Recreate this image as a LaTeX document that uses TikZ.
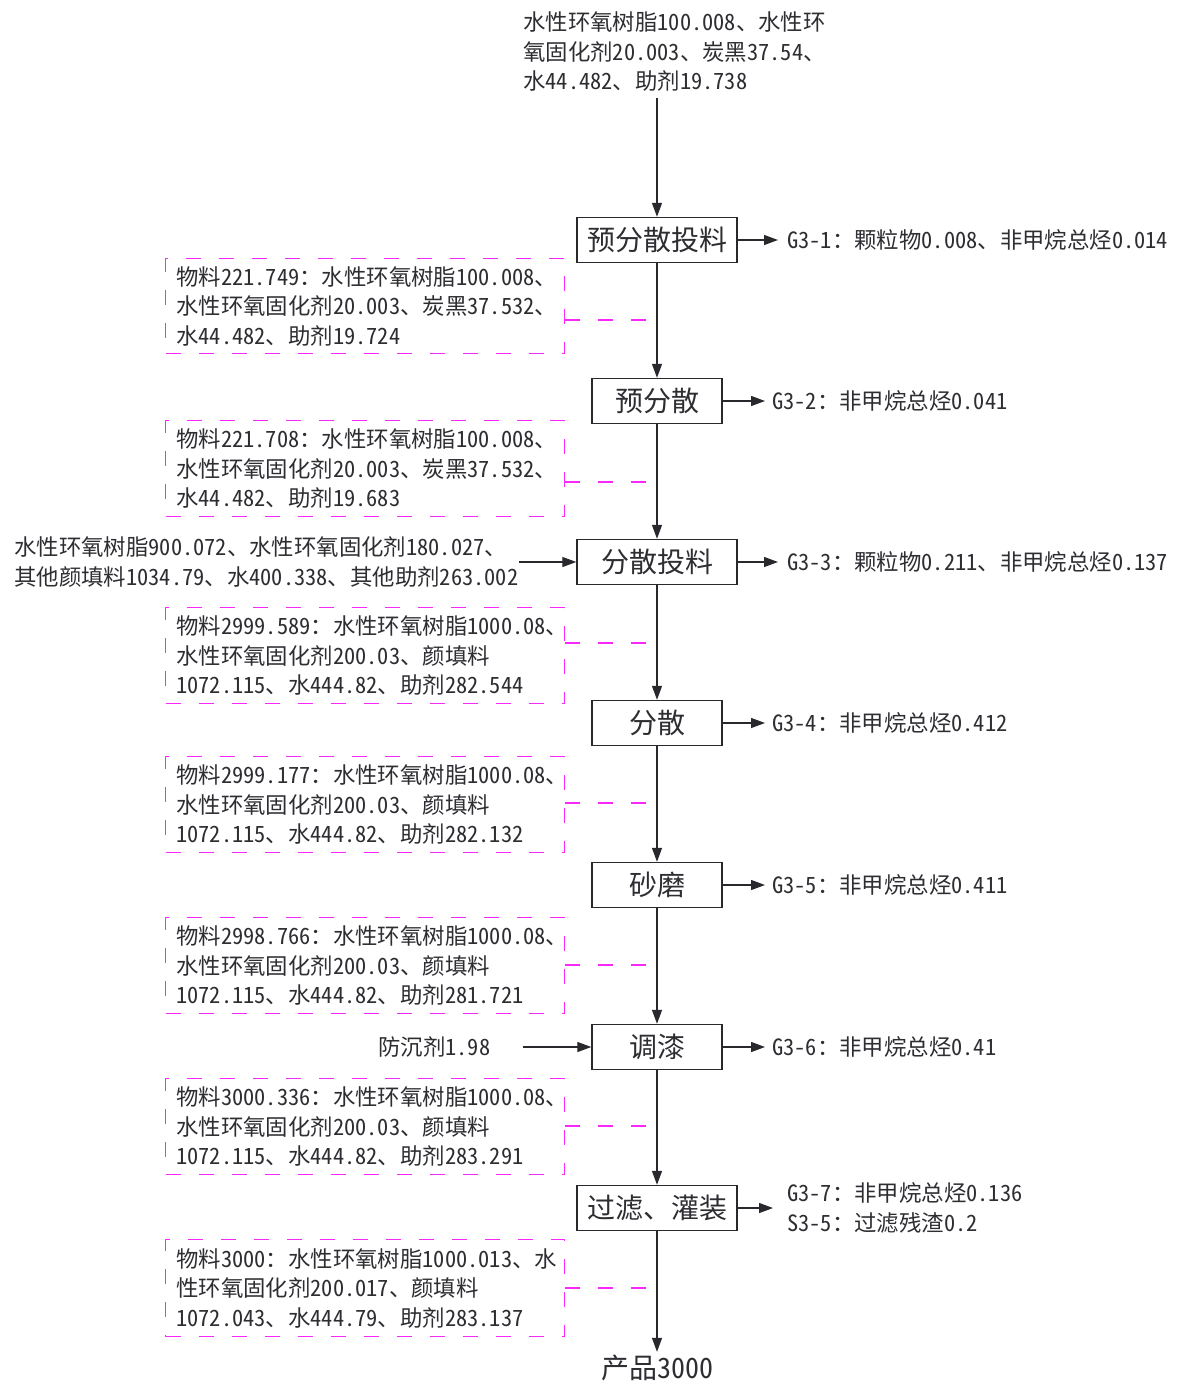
\documentclass[tikz,border=0pt]{standalone}
\usepackage{fontspec}
\setmainfont{Noto Sans CJK SC}[RawFeature=+hwid]
\usetikzlibrary{arrows.meta,calc}
\definecolor{linec}{RGB}{40,40,45}
\definecolor{txt}{RGB}{45,45,50}
\definecolor{mag}{RGB}{250,40,250}
\begin{document}
\begin{tikzpicture}[x=1pt,y=-1pt,
 proc/.style={draw=linec,line width=1.4pt,minimum height=45pt,inner sep=0pt,font=\fontsize{28}{30}\selectfont,text=txt},
 matbox/.style={draw=mag,line width=1.3pt,dash pattern=on 15pt off 18pt,inner sep=0pt,anchor=north west},
 matline/.style={draw=mag,line width=1.3pt,dash pattern=on 15pt off 18pt},
 lbl/.style={font=\fontsize{22.4}{29.5}\selectfont,align=left,inner sep=0pt,anchor=west,text=txt},
 arr/.style={draw=linec,line width=1.3pt,-{Triangle[length=14pt,width=10pt]}},
]
\useasboundingbox (0,0) rectangle (1179,1383);

% process boxes
\node[proc,minimum width=160pt] (b1) at (657,240) {预分散投料};
\node[proc,minimum width=130pt] (b2) at (657,401) {预分散};
\node[proc,minimum width=160pt] (b3) at (657,562) {分散投料};
\node[proc,minimum width=130pt] (b4) at (657,723) {分散};
\node[proc,minimum width=130pt] (b5) at (657,885) {砂磨};
\node[proc,minimum width=130pt] (b6) at (657,1047) {调漆};
\node[proc,minimum width=160pt] (b7) at (657,1208) {过滤、灌装};
\node[font=\fontsize{28}{30}\selectfont,text=txt,inner xsep=0pt,inner ysep=3pt] (out) at (657,1368) {产品3000};

% inputs
\node[lbl] (in1) at (523,52) {水性环氧树脂100.008、水性环\\氧固化剂20.003、炭黑37.54、\\水44.482、助剂19.738};
\node[lbl] (in3) at (14,562) {水性环氧树脂900.072、水性环氧固化剂180.027、\\其他颜填料1034.79、水400.338、其他助剂263.002};
\node[lbl] (in6) at (378,1047) {防沉剂1.98};

% outputs
\node[lbl] (g1) at (787,240) {G3-1：颗粒物0.008、非甲烷总烃0.014};
\node[lbl] (g2) at (772,401) {G3-2：非甲烷总烃0.041};
\node[lbl] (g3) at (787,562) {G3-3：颗粒物0.211、非甲烷总烃0.137};
\node[lbl] (g4) at (772,723) {G3-4：非甲烷总烃0.412};
\node[lbl] (g5) at (772,885) {G3-5：非甲烷总烃0.411};
\node[lbl] (g6) at (772,1047) {G3-6：非甲烷总烃0.41};
\node[lbl] (g7) at (787,1208) {G3-7：非甲烷总烃0.136\\S3-5：过滤残渣0.2};

% main flow
\draw[arr] (in1.south -| b1.north) ++(0,6) -- (b1.north);
\draw[arr] (b1) -- (b2);
\draw[arr] (b2) -- (b3);
\draw[arr] (b3) -- (b4);
\draw[arr] (b4) -- (b5);
\draw[arr] (b5) -- (b6);
\draw[arr] (b6) -- (b7);
\draw[arr] (b7) -- (out);

\draw[arr] ($(b3.west)+(-57,0)$) -- (b3.west);
\draw[arr] ($(b6.west)+(-68,0)$) -- (b6.west);

\foreach \b/\g/\s in {b1/g1/9,b2/g2/7,b3/g3/9,b4/g4/7,b5/g5/7,b6/g6/7,b7/g7/14}
  \draw[arr,shorten >=\s pt] (\b.east) -- (\g.west);

% material boxes
\foreach \i/\y/\h/\c/\t in {
 1/258/95/62/{物料221.749：水性环氧树脂100.008、\\水性环氧固化剂20.003、炭黑37.532、\\水44.482、助剂19.724},
 2/420/96/62/{物料221.708：水性环氧树脂100.008、\\水性环氧固化剂20.003、炭黑37.532、\\水44.482、助剂19.683},
 3/607/96/36/{物料2999.589：水性环氧树脂1000.08、\\水性环氧固化剂200.03、颜填料\\1072.115、水444.82、助剂282.544},
 4/756/96/47/{物料2999.177：水性环氧树脂1000.08、\\水性环氧固化剂200.03、颜填料\\1072.115、水444.82、助剂282.132},
 5/917/96/48/{物料2998.766：水性环氧树脂1000.08、\\水性环氧固化剂200.03、颜填料\\1072.115、水444.82、助剂281.721},
 6/1078/96/48/{物料3000.336：水性环氧树脂1000.08、\\水性环氧固化剂200.03、颜填料\\1072.115、水444.82、助剂283.291},
 7/1239/97/49/{物料3000：水性环氧树脂1000.013、水\\性环氧固化剂200.017、颜填料\\1072.043、水444.79、助剂283.137}}
{
 \node[matbox,minimum width=399pt,minimum height=\h pt] (m\i) at (165,\y) {};
 \node[lbl] (t\i) at ($(m\i.west)+(11,0)$) {\t};
 \coordinate (c\i) at ($(m\i.north east)+(0,\c)$);
 \draw[matline] (c\i) -- (c\i -| b1.south);
}
\end{tikzpicture}
\end{document}
